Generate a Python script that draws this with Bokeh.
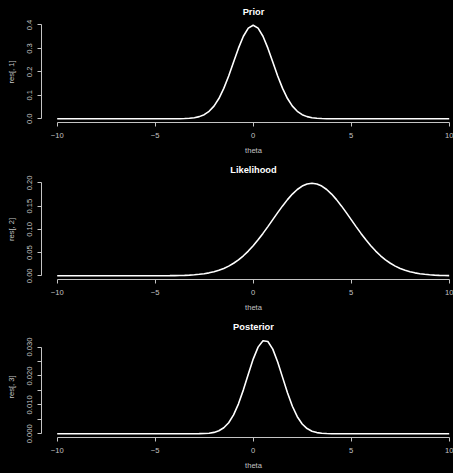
import math
from bokeh.plotting import figure
from bokeh.models import Range1d, FixedTicker, Title, Column
from bokeh.embed import file_html
from bokeh.resources import INLINE

# ---- data ----
theta = [-10 + 0.25 * i for i in range(81)]

prior_core = [0.00002, 0.00005, 0.00013, 0.00035, 0.00087, 0.00203, 0.00443, 0.00909,
              0.01753, 0.03174, 0.05399, 0.08628, 0.12952, 0.18265, 0.24197, 0.30114,
              0.35207, 0.38667, 0.39894, 0.38667, 0.35207, 0.30114, 0.24197, 0.18265,
              0.12952, 0.08628, 0.05399, 0.03174, 0.01753, 0.00909, 0.00443, 0.00203,
              0.00087, 0.00035, 0.00013, 0.00005, 0.00002]
prior = [0.0] * 22 + prior_core + [0.0] * 22

lik_core = [0.00007, 0.00011, 0.00018, 0.00028, 0.00044, 0.00067, 0.00101, 0.00151,
            0.00222, 0.00320, 0.00455, 0.00636, 0.00876, 0.01189, 0.01587, 0.02086,
            0.02700, 0.03439, 0.04314, 0.05327, 0.06476, 0.07750, 0.09132, 0.10594,
            0.12099, 0.13603, 0.15057, 0.16408, 0.17603, 0.18593, 0.19333, 0.19792,
            0.19947, 0.19792, 0.19333, 0.18593, 0.17603, 0.16408, 0.15057, 0.13603,
            0.12099, 0.10594, 0.09132, 0.07750, 0.06476, 0.05327, 0.04314, 0.03439,
            0.02700, 0.02086, 0.01587, 0.01189, 0.00876, 0.00636, 0.00455, 0.00320,
            0.00222, 0.00151, 0.00101, 0.00067, 0.00044]
likelihood = [0.0] * 20 + lik_core

post_core = [0.00001, 0.00003, 0.00008, 0.00020, 0.00047, 0.00103, 0.00206, 0.00381,
             0.00653, 0.01036, 0.01519, 0.02060, 0.02584, 0.02998, 0.03216, 0.03191,
             0.02928, 0.02485, 0.01951, 0.01416, 0.00951, 0.00590, 0.00339, 0.00180,
             0.00088, 0.00040, 0.00017, 0.00007, 0.00002]
posterior = [0.0] * 28 + post_core + [0.0] * 24

titles = ["Prior", "Likelihood", "Posterior"]
ylabels = ["res[, 1]", "res[, 2]", "res[, 3]"]
xlabel = "theta"
series = [prior, likelihood, posterior]
ymax = [0.39894, 0.19947, 0.03236]
yticks = [[0.0, 0.1, 0.2, 0.3, 0.4],
          [0.0, 0.05, 0.10, 0.15, 0.20],
          [0.0, 0.010, 0.020, 0.030]]
yticklabels = [["0.0", "0.1", "0.2", "0.3", "0.4"],
               ["0.00", "0.05", "0.10", "0.15", "0.20"],
               ["0.000", "0.010", "0.020", "0.030"]]
yminor = [[], [], [0.005, 0.015, 0.025]]
xticks = [-10, -5, 0, 5, 10]
xticklabels = ["\u221210", "\u22125", "0", "5", "10"]

FONT = "Liberation Sans"
AX = "#c4c4c4"
heights = [158, 157, 158]
tops = [21, 20, 20]
bottoms = [35, 35, 36]
FRAME_LEFT = 41
CENTER_X = 253  # screen x of theta = 0 (centre of the R plot region)
TITLE_PX = 9.3
LAB_PX = 7.6

# Helvetica/Liberation advance widths (em) to centre text on the R plot region
W_BOLD = {"P": .667, "r": .389, "i": .278, "o": .611, "L": .611, "k": .556, "e": .556,
          "l": .278, "h": .611, "d": .611, "s": .556, "t": .333, "a": .556}
W_REG = {"t": .278, "h": .556, "e": .556, "a": .556}


def text_width(s, table, px):
    return sum(table.get(c, 0.556) for c in s) * px


figs = []
for k in range(3):
    top = ymax[k] * 1.04
    bot = -ymax[k] * 0.04
    p = figure(width=453, height=heights[k], output_backend="svg", toolbar_location=None,
               x_range=Range1d(-10.8, 10.22), y_range=Range1d(bot, top),
               min_border_left=FRAME_LEFT, min_border_right=0,
               min_border_top=tops[k], min_border_bottom=bottoms[k])
    p.background_fill_color = "black"
    p.border_fill_color = "black"
    p.outline_line_color = None
    p.xgrid.visible = False
    p.ygrid.visible = False

    p.line(theta, series[k], line_color="white", line_width=1.6)

    xa = p.xaxis[0]
    xa.ticker = FixedTicker(ticks=xticks)
    xa.major_label_overrides = {t: s for t, s in zip(xticks, xticklabels)}
    xa.bounds = (-10, 10)
    ya = p.yaxis[0]
    ya.ticker = FixedTicker(ticks=yticks[k], minor_ticks=yminor[k])
    ya.major_label_overrides = {t: s for t, s in zip(yticks[k], yticklabels[k])}
    ya.bounds = (0, yticks[k][-1])
    ya.major_label_orientation = "vertical"
    for ax in (xa, ya):
        ax.axis_line_color = AX
        ax.major_tick_line_color = AX
        ax.minor_tick_line_color = AX
        ax.major_tick_out = 4
        ax.major_tick_in = 0
        ax.minor_tick_out = 4 if ax is ya else 0
        ax.minor_tick_in = 0
        ax.major_label_text_color = AX
        ax.major_label_text_font = FONT
        ax.major_label_text_font_size = f"{LAB_PX}px"
    xa.major_label_standoff = 6
    ya.major_label_standoff = 5
    if not yminor[k]:
        ya.minor_tick_line_color = None
    xa.minor_tick_line_color = None

    ya.axis_label = ylabels[k]
    ya.axis_label_text_font = FONT
    ya.axis_label_text_font_size = f"{LAB_PX}px"
    ya.axis_label_text_font_style = "normal"
    ya.axis_label_text_color = AX
    ya.axis_label_standoff = 9

    tw = text_width(titles[k], W_BOLD, TITLE_PX)
    p.title = Title(text=titles[k], align="left",
                    offset=CENTER_X - FRAME_LEFT - tw / 2, standoff=9,
                    text_font=FONT, text_font_size=f"{TITLE_PX}px", text_font_style="bold",
                    text_color="white")
    xw = text_width(xlabel, W_REG, LAB_PX)
    p.add_layout(Title(text=xlabel, align="left",
                       offset=CENTER_X - FRAME_LEFT - xw / 2, standoff=7,
                       text_line_height=0.8,
                       text_font=FONT, text_font_size=f"{LAB_PX}px", text_font_style="normal",
                       text_color=AX), "below")
    figs.append(p)

layout = Column(children=figs, spacing=0, styles={"background-color": "black"})
html = file_html(layout, INLINE)
html = html.replace("<body>", '<body style="margin:0;background:black;">')
open("out.html", "w").write(html)
